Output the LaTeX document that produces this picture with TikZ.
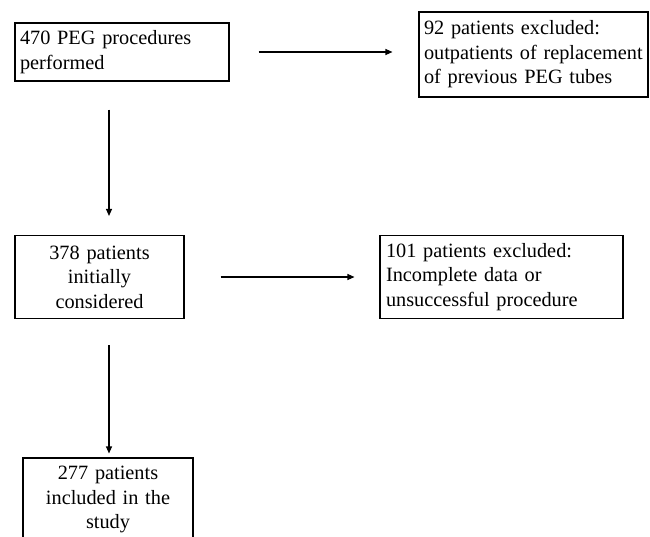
\documentclass[tikz,border=0pt]{standalone}
\usepackage{fontspec}
\setmainfont{Liberation Serif}
\usetikzlibrary{arrows.meta}

\begin{document}
\begin{tikzpicture}[x=1pt, y=-1pt, line width=1.1pt,
    >={Triangle[length=7pt, width=6pt]},
    every node/.style = {shape=rectangle, draw, inner xsep=5pt,
      font=\fontsize{20.3}{24.5}\selectfont}]
    \clip (0,0) rectangle (650,536);
    \node[text width=204pt, minimum height=58pt, align=left] (proc) at (122,52)
        {470 PEG procedures\\performed};
    \node[text width=219pt, minimum height=85pt, align=left] (excl1) at (533.5,54.5)
        {92 patients excluded:\\outpatients of replacement\\of previous PEG tubes};
    \node[text width=159pt, minimum height=83pt, align=center] (init) at (99.5,277)
        {378 patients\\initially\\considered};
    \node[text width=231pt, minimum height=83pt, inner xsep=6pt, align=left] (excl2) at (501.5,277)
        {101 patients excluded:\\Incomplete data or\\unsuccessful procedure};
    \node[text width=160pt, minimum height=83pt, align=center] (incl) at (108,499.5)
        {277 patients\\included in the\\study};
    % connectors
    \draw[->] ([xshift=29pt]proc.east) -- ([xshift=-26pt,yshift=2.5pt]excl1.west);
    \draw[->] ([xshift=-13pt,yshift=-28pt]proc.south) -- ([xshift=9.5pt,yshift=19pt]init.north);
    \draw[->] ([xshift=36pt]init.east) -- ([xshift=-25pt]excl2.west);
    \draw[->] ([xshift=9.5pt,yshift=-26pt]init.south) -- ([xshift=1pt,yshift=4pt]incl.north);
\end{tikzpicture}
\end{document}
